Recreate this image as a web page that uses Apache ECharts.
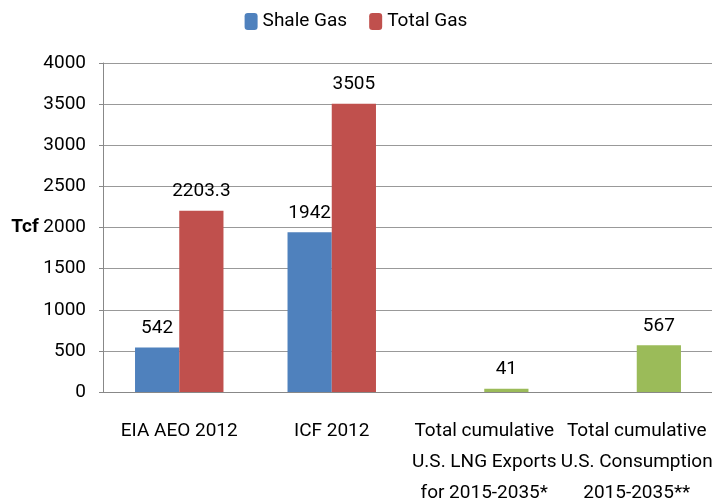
<!DOCTYPE html>
<html>
<head>
<meta charset="utf-8">
<script src="https://cdn.jsdelivr.net/npm/echarts@6/dist/echarts.min.js"></script>
<style>
  html, body { margin: 0; padding: 0; background: #fff; }
  #chart { width: 712px; height: 504px; }
</style>
</head>
<body>
<div id="chart"></div>
<script>
const categories = [
  'EIA AEO 2012',
  'ICF 2012',
  'Total cumulative\nU.S. LNG Exports\nfor 2015-2035*',
  'Total cumulative\nU.S. Consumption\n2015-2035**'
]
const shaleGas = [542, 1942, null, null]
const totalGas = [2203.3, 3505, null, null]
const cumulative = [null, null, 41, 567]

const font = 'Roboto, "Liberation Sans", sans-serif'
const fs = 19
const chart = echarts.init(document.getElementById('chart'))

const label = {
  show: true,
  position: 'top',
  distance: 10,
  color: '#000',
  fontSize: fs,
  fontFamily: font
}

chart.setOption({
  animation: false,
  textStyle: { fontFamily: font },
  legend: {
    data: ['Shale Gas', 'Total Gas'],
    top: 7,
    left: 'center',
    itemWidth: 13,
    itemHeight: 17,
    itemGap: 22,
    textStyle: { fontSize: fs, color: '#000', fontFamily: font }
  },
  grid: { left: 103, right: -1, top: 63, bottom: 112, outerBoundsMode: 'none' },
  xAxis: {
    type: 'category',
    data: categories,
    axisLine: { lineStyle: { color: '#888' } },
    axisTick: { length: 6, lineStyle: { color: '#888' } },
    axisLabel: {
      color: '#000',
      fontSize: fs,
      fontFamily: font,
      lineHeight: 31,
      margin: 24,
      interval: 0
    }
  },
  yAxis: {
    type: 'value',
    min: 0,
    max: 4000,
    interval: 500,
    name: 'Tcf',
    nameLocation: 'middle',
    nameRotate: 0,
    nameGap: 78,
    nameMoveOverlap: false,
    nameTextStyle: { fontSize: fs, fontWeight: 'bold', color: '#000', fontFamily: font, align: 'center' },
    axisLine: { show: true, lineStyle: { color: '#888' } },
    axisTick: { show: true, length: 4, lineStyle: { color: '#888' } },
    axisLabel: { color: '#000', fontSize: fs, fontFamily: font, margin: 17, formatter: v => String(v) },
    splitLine: { lineStyle: { color: '#999' } }
  },
  series: [
    {
      name: 'Shale Gas',
      type: 'bar',
      data: shaleGas,
      barGap: 0,
      barCategoryGap: '42%',
      itemStyle: { color: '#4F81BD' },
      label: label
    },
    {
      name: 'Total Gas',
      type: 'bar',
      stack: 'gas',
      data: totalGas,
      itemStyle: { color: '#C0504D' },
      label: label
    },
    {
      name: 'Cumulative',
      type: 'bar',
      stack: 'gas',
      data: cumulative,
      itemStyle: { color: '#9BBB59' },
      label: label
    }
  ]
})
</script>
</body>
</html>
